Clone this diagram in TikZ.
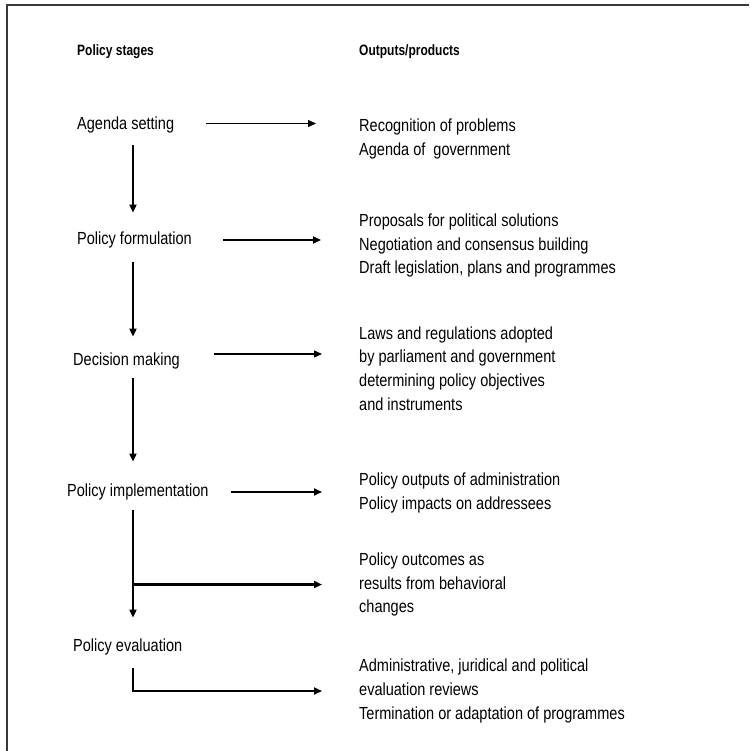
\documentclass[tikz,border=0pt]{standalone}
\usepackage{fontspec}
\setmainfont{Liberation Sans}
\newfontfamily\bodyfont[FakeStretch=0.83]{Liberation Sans}
\newfontfamily\headfont[FakeStretch=0.8]{Liberation Sans}
\usetikzlibrary{arrows.meta}
\begin{document}
\begin{tikzpicture}[x=1pt,y=-1pt,
  stage/.style={anchor=west,inner sep=0pt,font=\bodyfont\fontsize{17.5}{23.7}\selectfont},
  outp/.style={anchor=west,inner sep=0pt,align=left,font=\bodyfont\fontsize{17.5}{23.7}\selectfont},
  head/.style={anchor=west,inner sep=0pt,font=\headfont\bfseries\fontsize{15}{18}\selectfont},
  arr/.style={line width=1.7pt,-{Triangle[length=8pt,width=7pt]}},
  thinarr/.style={line width=1.3pt,-{Triangle[length=8pt,width=7pt]}},
  frame/.style={line width=2pt,draw=black!78}]
\useasboundingbox (0,0) rectangle (749,751);
\draw[frame] (7,751) -- (7,5) -- (749,5);

\coordinate (spine) at (133,0);

% headers
\node[head] (h1) at (77,52) {Policy stages};
\node[head] (h2) at (359,52) {Outputs/products};

% stages
\node[stage] (as) at (77,125) {Agenda setting};
\node[stage] (pf) at (77,240) {Policy formulation};
\node[stage] (dm) at (73,361) {Decision making};
\node[stage] (pi) at (67,492) {Policy implementation};
\node[stage] (pe) at (73,647) {Policy evaluation};

% outputs
\node[outp] (rec) at (359,139) {Recognition of problems\\Agenda of\ \ government};
\node[outp] (pro) at (359,245.5) {Proposals for political solutions\\Negotiation and consensus building\\Draft legislation, plans and programmes};
\node[outp] (law) at (359,368.5) {Laws and regulations adopted\\by parliament and government\\determining policy objectives\\and instruments};
\node[outp] (pol) at (359,493) {Policy outputs of administration\\Policy impacts on addressees};
\node[outp] (oc) at (359,584.5) {Policy outcomes as\\results from behavioral\\changes};
\node[outp] (adm) at (359,691) {Administrative, juridical and political\\evaluation reviews\\Termination or adaptation of programmes};

% horizontal arrows
\draw[thinarr, shorten <=32pt, shorten >=43pt] ([yshift=1.5pt]as.east) -- ([yshift=1.5pt]as.east -| rec.west);
\draw[arr, shorten <=31pt, shorten >=38pt] (pf.east) -- (pf.east -| pro.west);
\coordinate (dmr) at ([yshift=7pt]dm.east);
\draw[thinarr, shorten <=34pt, shorten >=37pt] (dmr) -- (dmr -| law.west);
\draw[arr, shorten <=22pt, shorten >=37pt] (pi.east) -- (pi.east -| pol.west);
\draw[arr, line width=2.2pt, shorten >=37pt] (oc.west -| spine) -- (oc.west);

% vertical arrows
\draw[arr, shorten <=12pt, shorten >=19pt] (as.south -| spine) -- (pf.north -| spine);
\draw[arr, shorten <=14pt, shorten >=16pt] (pf.south -| spine) -- (dm.north -| spine);
\draw[arr, shorten <=9pt, shorten >=22pt] (dm.south -| spine) -- (pi.north -| spine);
\draw[arr, shorten <=10pt, shorten >=21pt] (pi.south -| spine) -- (pe.north -| spine);
\draw[arr, shorten <=13pt, shorten >=37pt] (pe.south -| spine) |- (adm.west);
\end{tikzpicture}
\end{document}
